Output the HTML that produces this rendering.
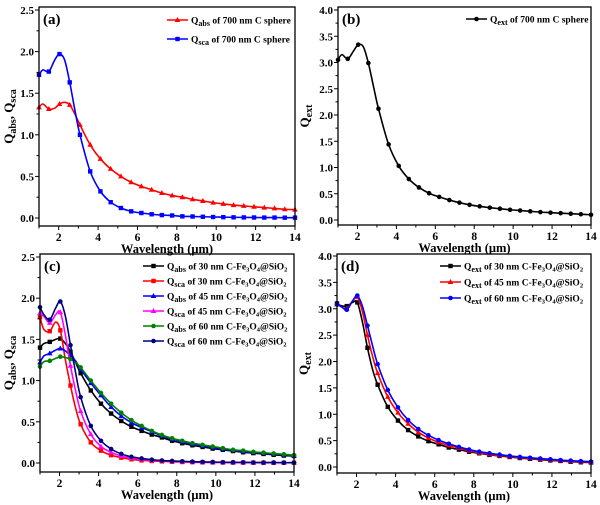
<!DOCTYPE html>
<html><head><meta charset="utf-8"><style>
html,body{margin:0;padding:0;background:#fff;}
svg{display:block;font-family:"Liberation Serif",serif;font-weight:bold;}
</style></head><body>
<svg id="chart" width="600" height="505" viewBox="0 0 600 505" xmlns="http://www.w3.org/2000/svg"></svg>
<script>
// shared wavelengths (µm); extra (unmarked) sample points at indices 1,3,5,7
const wavelengths=[1,1.2,1.5,1.8,2.04,2.3,2.56,2.82,3.08,3.6,4.12,4.64,5.16,5.68,6.2,6.72,7.24,7.76,8.28,8.8,9.32,9.84,10.36,10.88,11.4,11.92,12.44,12.96,13.48,14];
const unmarked=[1,3,5,7];
const xTicks=[2,4,6,8,10,12,14];
const yTicksQ=[0,0.5,1.0,1.5,2.0,2.5];
const yTicksExt=[0,0.5,1.0,1.5,2.0,2.5,3.0,3.5,4.0];
// panel a
const absC700=[1.33,1.37,1.31,1.32,1.37,1.39,1.36,1.25,1.12,0.88,0.71,0.59,0.50,0.43,0.38,0.34,0.30,0.27,0.25,0.225,0.205,0.185,0.17,0.155,0.145,0.135,0.125,0.115,0.105,0.10];
const scaC700=[1.72,1.78,1.76,1.90,1.97,1.90,1.63,1.30,1.00,0.56,0.32,0.19,0.12,0.08,0.06,0.045,0.035,0.03,0.02,0.018,0.015,0.012,0.01,0.008,0.007,0.006,0.005,0.005,0.004,0.004];
// panel b
const extC700=[3.05,3.15,3.07,3.22,3.34,3.30,2.99,2.55,2.12,1.44,1.03,0.78,0.62,0.51,0.44,0.38,0.33,0.29,0.26,0.235,0.215,0.195,0.18,0.165,0.15,0.14,0.13,0.12,0.11,0.10];
// panel c
const abs30=[1.40,1.45,1.47,1.50,1.51,1.45,1.35,1.22,1.09,0.88,0.72,0.60,0.51,0.44,0.39,0.345,0.31,0.27,0.24,0.215,0.195,0.175,0.16,0.145,0.13,0.12,0.11,0.10,0.09,0.085];
const sca30=[1.77,1.62,1.60,1.71,1.61,1.25,0.94,0.67,0.47,0.25,0.15,0.095,0.065,0.045,0.032,0.025,0.02,0.015,0.012,0.01,0.008,0.007,0.006,0.005,0.005,0.004,0.004,0.003,0.003,0.003];
const abs45=[1.22,1.30,1.33,1.37,1.39,1.36,1.30,1.24,1.14,0.97,0.82,0.68,0.57,0.49,0.43,0.38,0.33,0.29,0.26,0.23,0.21,0.19,0.17,0.155,0.14,0.13,0.12,0.11,0.10,0.09];
const sca45=[1.82,1.78,1.70,1.80,1.83,1.55,1.18,0.88,0.63,0.35,0.20,0.13,0.085,0.06,0.045,0.035,0.027,0.02,0.016,0.013,0.011,0.009,0.008,0.007,0.006,0.005,0.005,0.004,0.004,0.004];
const abs60=[1.17,1.23,1.24,1.27,1.29,1.28,1.26,1.22,1.16,1.00,0.85,0.72,0.61,0.52,0.45,0.39,0.34,0.30,0.27,0.24,0.22,0.20,0.18,0.16,0.15,0.135,0.125,0.115,0.105,0.095];
const sca60=[1.89,1.80,1.74,1.88,1.96,1.78,1.43,1.10,0.80,0.45,0.27,0.17,0.11,0.075,0.055,0.04,0.03,0.025,0.02,0.016,0.013,0.011,0.009,0.008,0.007,0.006,0.005,0.005,0.004,0.004];
// panel d
const ext30=[3.10,3.06,3.05,3.12,3.12,2.75,2.26,1.85,1.56,1.14,0.88,0.70,0.58,0.49,0.43,0.37,0.33,0.29,0.26,0.23,0.21,0.19,0.17,0.155,0.14,0.125,0.115,0.10,0.09,0.085];
const ext45=[3.08,3.04,3.00,3.15,3.22,2.95,2.50,2.10,1.78,1.33,1.03,0.82,0.66,0.55,0.47,0.41,0.36,0.31,0.27,0.24,0.22,0.20,0.18,0.165,0.15,0.135,0.12,0.11,0.10,0.09];
const ext60=[3.08,3.05,2.98,3.15,3.25,3.05,2.68,2.30,1.95,1.46,1.13,0.89,0.72,0.60,0.51,0.44,0.38,0.33,0.29,0.26,0.235,0.21,0.19,0.175,0.16,0.145,0.13,0.12,0.11,0.10];

const NS="http://www.w3.org/2000/svg";
const svg=document.getElementById('chart');
function mk(tag,attrs,parent){const e=document.createElementNS(NS,tag);for(const k in attrs)e.setAttribute(k,attrs[k]);(parent||svg).appendChild(e);return e;}

function smoothPath(pts){
  let d='M'+pts[0][0].toFixed(2)+','+pts[0][1].toFixed(2);
  for(let i=0;i<pts.length-1;i++){
    const p0=pts[Math.max(0,i-1)],p1=pts[i],p2=pts[i+1],p3=pts[Math.min(pts.length-1,i+2)];
    const c1=[p1[0]+(p2[0]-p0[0])/6,p1[1]+(p2[1]-p0[1])/6];
    const c2=[p2[0]-(p3[0]-p1[0])/6,p2[1]-(p3[1]-p1[1])/6];
    d+=' C'+c1[0].toFixed(2)+','+c1[1].toFixed(2)+' '+c2[0].toFixed(2)+','+c2[1].toFixed(2)+' '+p2[0].toFixed(2)+','+p2[1].toFixed(2);
  }
  return d;
}
function marker(g,shape,x,y,color){
  let e;
  if(shape==='square') e=mk('rect',{x:x-2.2,y:y-2.2,width:4.4,height:4.4,fill:color},g);
  else if(shape==='tri') e=mk('polygon',{points:`${x},${y-3} ${x-2.8},${y+2} ${x+2.8},${y+2}`,fill:color},g);
  else e=mk('circle',{cx:x,cy:y,r:2.3,fill:color},g);
  
  
}

function panel(p){
  const g=mk('g',{});
  
  
  const sx=v=>p.x0+(v-1)/(13)*(p.x1-p.x0);
  const sy=v=>p.y0+(v)/(p.ymax)*(p.yTop-p.y0);
  p.series.forEach(s=>{
    const sg=mk('g',{},g);
    
    
    const pts=wavelengths.map((w,i)=>[sx(w),sy(s.data[i])]);
    const ln=mk('path',{d:smoothPath(pts),fill:'none',stroke:s.color,'stroke-width':1.6},sg);
    
    
    pts.forEach((pt,i)=>{if(unmarked.indexOf(i)<0)marker(sg,s.shape,pt[0],pt[1],s.color);});
  });
  const fr=mk('rect',{x:p.x0,y:p.fTop,width:p.x1-p.x0,height:p.fBot-p.fTop,fill:'none',stroke:'#000','stroke-width':1.3},g);
  
  
  const xa=mk('g',{},g);
  
  
  for(let v=1;v<=14;v++){
    const major=v%2===0;
    mk('line',{x1:sx(v),x2:sx(v),y1:p.fBot,y2:p.fBot+(major?4:2.5),stroke:'#000','stroke-width':1},xa);
  }
  xTicks.forEach(v=>{
    const t=mk('text',{x:sx(v),y:p.fBot+15,'text-anchor':'middle','font-size':11.5},xa);
    t.textContent=v;
    
    
  });
  const xt=mk('text',{x:(p.x0+p.x1)/2,y:p.fBot+27,'text-anchor':'middle','font-size':12.5},g);
  xt.textContent='Wavelength (\u03bcm)';
  
  
  const ya=mk('g',{},g);
  
  
  p.yTicks.forEach((v,i)=>{
    mk('line',{x1:p.x0,x2:p.x0-4,y1:sy(v),y2:sy(v),stroke:'#000','stroke-width':1},ya);
    if(i<p.yTicks.length-1){const m=(v+p.yTicks[i+1])/2;mk('line',{x1:p.x0,x2:p.x0-2.5,y1:sy(m),y2:sy(m),stroke:'#000','stroke-width':1},ya);}
    const t=mk('text',{x:p.x0-5,y:sy(v)+4,'text-anchor':'end','font-size':11},ya);
    t.textContent=v.toFixed(1);
    
    
  });
  const yt=mk('text',{transform:`translate(${p.ytx},${(p.fTop+p.fBot)/2}) rotate(-90)`,'text-anchor':'middle','font-size':13},g);
  yt.innerHTML=p.ytitle;
  
  
  const pl=mk('text',{x:p.x0+4,y:p.fTop+17,'font-size':15},g);
  pl.textContent=p.label;
  
  
  const lg=mk('g',{},g);
  
  
  p.series.forEach((s,i)=>{
    const y=p.lgY+i*p.lgDy;
    const e=mk('g',{},lg);
    
    
    mk('line',{x1:p.lgX,x2:p.lgX+21,y1:y,y2:y,stroke:s.color,'stroke-width':1.6},e);
    marker(e,s.shape,p.lgX+10.5,y,s.color);
    const t=mk('text',{x:p.lgX+24,y:y+3.5,'font-size':9.5},e);
    t.innerHTML=s.label;
  });
}
const sub=s=>`<tspan dy="2.5" font-size="8">${s}</tspan><tspan dy="-2.5"> </tspan>`;
const fe='C-Fe<tspan dy="2" font-size="6.5">3</tspan><tspan dy="-2">O</tspan><tspan dy="2" font-size="6.5">4</tspan><tspan dy="-2">@SiO</tspan><tspan dy="2" font-size="6.5">2</tspan>';
const qTitle='Q<tspan dy="3" font-size="10">abs</tspan><tspan dy="-3">,  Q</tspan><tspan dy="3" font-size="10">sca</tspan>';

panel({name:'panel-a',label:'(a)',x0:39,x1:295,fTop:7,fBot:226,y0:218,yTop:10,ymax:2.5,yTicks:yTicksQ,ytx:13,
  ytitle:qTitle,
  lgX:167,lgY:20,lgDy:19,
  series:[{id:'series-qabs-700nm',data:absC700,color:'#ff0000',shape:'tri',label:'Q'+sub('abs')+'of 700 nm C sphere'},
          {id:'series-qsca-700nm',data:scaC700,color:'#0000ff',shape:'square',label:'Q'+sub('sca')+'of 700 nm C sphere'}]});
panel({name:'panel-b',label:'(b)',x0:338,x1:591,fTop:7,fBot:225,y0:220,yTop:10,ymax:4,yTicks:yTicksExt,ytx:309,
  ytitle:'Q<tspan dy="3" font-size="10">ext</tspan>',
  lgX:466,lgY:19,lgDy:19,
  series:[{id:'series-qext-700nm',data:extC700,color:'#000000',shape:'circle',label:'Q'+sub('ext')+'of 700 nm C sphere'}]});
panel({name:'panel-c',label:'(c)',x0:40,x1:294,fTop:254,fBot:472,y0:463,yTop:257,ymax:2.5,yTicks:yTicksQ,ytx:13,
  ytitle:qTitle,
  lgX:143,lgY:266,lgDy:15,
  series:[{id:'series-qabs-30nm',data:abs30,color:'#000000',shape:'square',label:'Q'+sub('abs')+'of 30 nm '+fe},
          {id:'series-qsca-30nm',data:sca30,color:'#ff0000',shape:'square',label:'Q'+sub('sca')+'of 30 nm '+fe},
          {id:'series-qabs-45nm',data:abs45,color:'#0000ff',shape:'tri',label:'Q'+sub('abs')+'of 45 nm '+fe},
          {id:'series-qsca-45nm',data:sca45,color:'#ff00ff',shape:'tri',label:'Q'+sub('sca')+'of 45 nm '+fe},
          {id:'series-qabs-60nm',data:abs60,color:'#008000',shape:'circle',label:'Q'+sub('abs')+'of 60 nm '+fe},
          {id:'series-qsca-60nm',data:sca60,color:'#000080',shape:'circle',label:'Q'+sub('sca')+'of 60 nm '+fe}]});
panel({name:'panel-d',label:'(d)',x0:337,x1:591,fTop:254,fBot:473,y0:467,yTop:256,ymax:4,yTicks:yTicksExt,ytx:308,
  ytitle:'Q<tspan dy="3" font-size="10">ext</tspan>',
  lgX:440,lgY:266,lgDy:16,
  series:[{id:'series-qext-30nm',data:ext30,color:'#000000',shape:'square',label:'Q'+sub('ext')+'of 30 nm '+fe},
          {id:'series-qext-45nm',data:ext45,color:'#ff0000',shape:'tri',label:'Q'+sub('ext')+'of 45 nm '+fe},
          {id:'series-qext-60nm',data:ext60,color:'#0000ff',shape:'circle',label:'Q'+sub('ext')+'of 60 nm '+fe}]});
</script>
</body></html>
